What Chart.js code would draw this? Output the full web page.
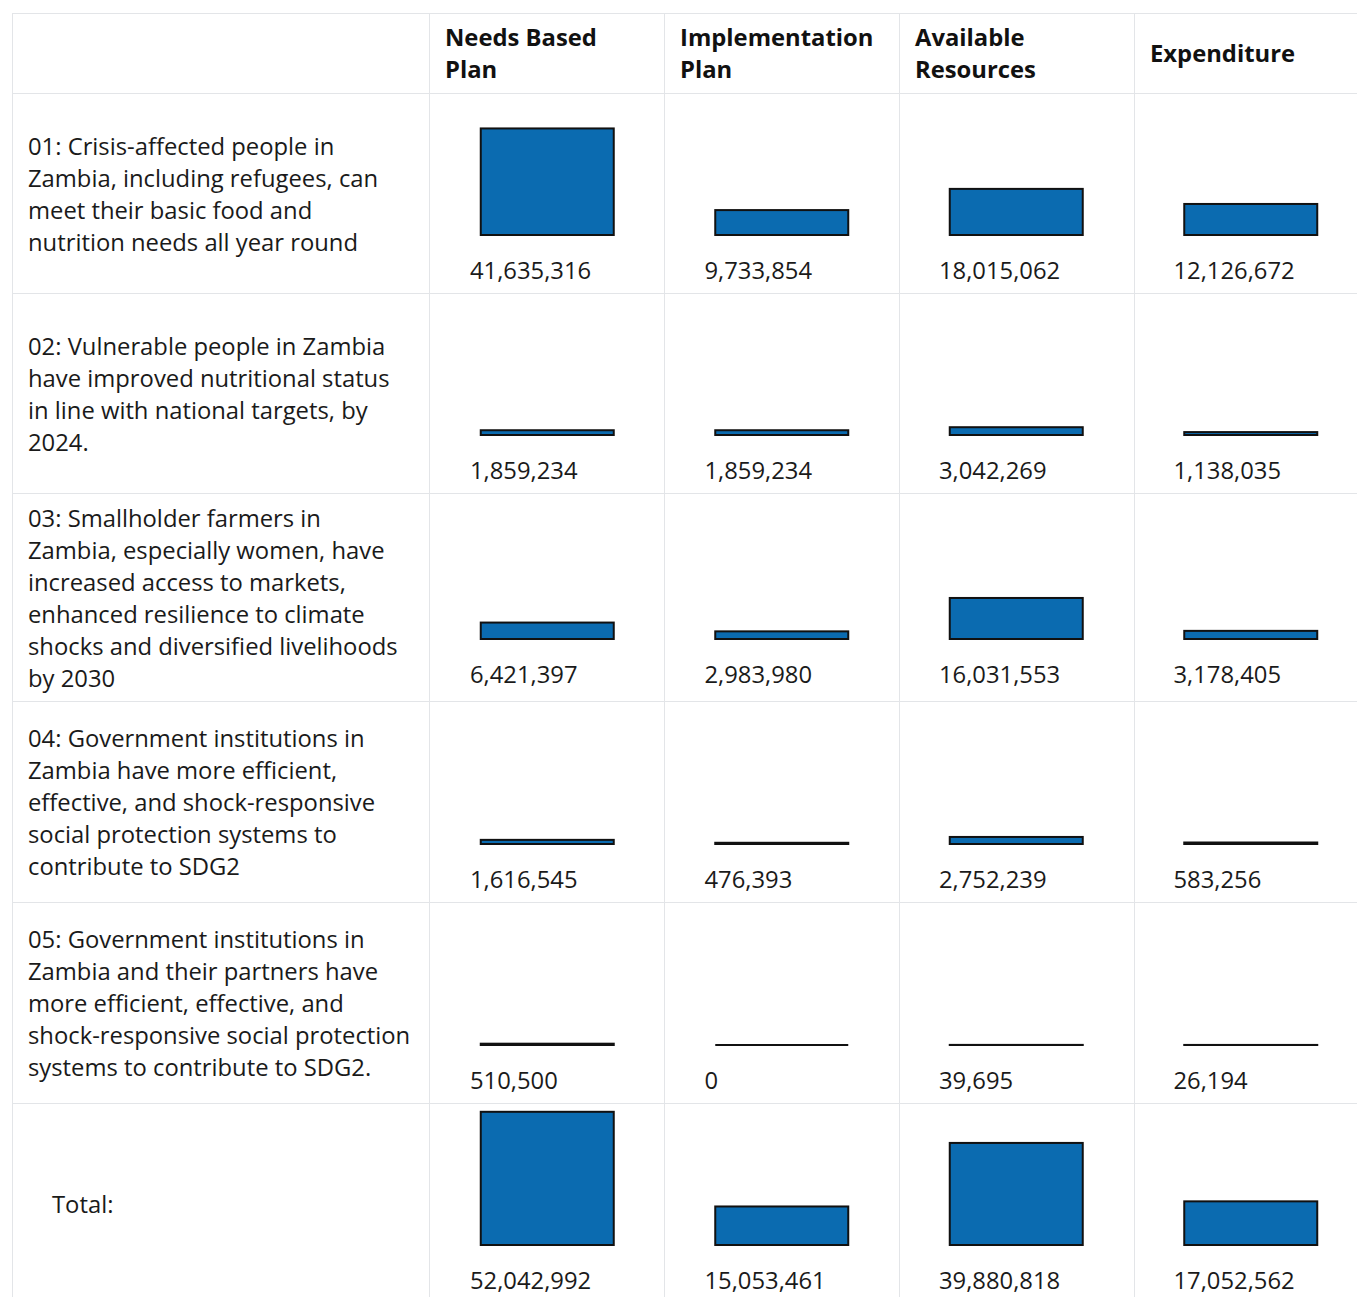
<!DOCTYPE html>
<html>
<head>
<meta charset="utf-8">
<script src="https://cdn.jsdelivr.net/npm/chart.js@4"></script>
<style>
  html, body { margin: 0; padding: 0; overflow: hidden; background: #fff; }
  body { font-family: 'Open Sans', sans-serif; color: #1a1a1a; width: 1357px; height: 1297px; }
  #grid { position: absolute; left: 12px; top: 13px; border-top: 1px solid #e3e5e8; border-left: 1px solid #e3e5e8; }
  .row { position: relative; display: flex; }
  .cell { box-sizing: border-box; border-right: 1px solid #e3e5e8; border-bottom: 1px solid #e3e5e8; display: flex; align-items: center; font-size: 23.8px; line-height: 32px; white-space: nowrap; }
  .label { width: 417px; padding: 0 15px; }
  .head { font-weight: bold; color: #111; padding-left: 15px; padding-bottom: 1px; }
  .val { width: 235px; }
  .total { padding-left: 39px; }
  .num { position: absolute; font-size: 23.8px; line-height: 32px; white-space: nowrap; }
  .plot { position: absolute; left: 417px; }
</style>
</head>
<body>
<div id="grid"></div>
<script>
const columns = [['Needs Based', 'Plan'], ['Implementation', 'Plan'], ['Available', 'Resources'], ['Expenditure']];
const outcomes = [
  ['01: Crisis-affected people in', 'Zambia, including refugees, can', 'meet their basic food and', 'nutrition needs all year round'],
  ['02: Vulnerable people in Zambia', 'have improved nutritional status', 'in line with national targets, by', '2024.'],
  ['03: Smallholder farmers in', 'Zambia, especially women, have', 'increased access to markets,', 'enhanced resilience to climate', 'shocks and diversified livelihoods', 'by 2030'],
  ['04: Government institutions in', 'Zambia have more efficient,', 'effective, and shock-responsive', 'social protection systems to', 'contribute to SDG2'],
  ['05: Government institutions in', 'Zambia and their partners have', 'more efficient, effective, and', 'shock-responsive social protection', 'systems to contribute to SDG2.'],
  ['Total:']
];
const needsBased = [41635316, 1859234, 6421397, 1616545, 510500, 52042992];
const implementation = [9733854, 1859234, 2983980, 476393, 0, 15053461];
const available = [18015062, 3042269, 16031553, 2752239, 39695, 39880818];
const expenditure = [12126672, 1138035, 3178405, 583256, 26194, 17052562];

const rowHeights = [200, 200, 208, 201, 201, 200];
const colW = 234.5;
const yMax = 54700000;

// black outline drawn around each bar, like an svg stroke (also shows zero values as a line)
const outline = {
  id: 'outline',
  afterDatasetsDraw(chart) {
    const ctx = chart.ctx;
    ctx.save();
    ctx.lineWidth = 2;
    ctx.strokeStyle = '#111';
    chart.getDatasetMeta(0).data.forEach(bar => {
      const { x, y, base, width } = bar.getProps(['x', 'y', 'base', 'width'], true);
      ctx.strokeRect(x - width / 2, y, width, base - y);
    });
    ctx.restore();
  }
};

const grid = document.getElementById('grid');

const head = document.createElement('div');
head.className = 'row';
head.innerHTML = '<div class="cell label" style="height:80px"></div>' +
  columns.map(c => `<div class="cell val head" style="height:80px">${c.join('<br>')}</div>`).join('');
grid.appendChild(head);

outcomes.forEach((lines, i) => {
  const h = rowHeights[i];
  const row = document.createElement('div');
  row.className = 'row';
  const isTotal = i === outcomes.length - 1;
  let html = `<div class="cell label${isTotal ? ' total' : ''}" style="height:${h}px"><div>${lines.join('<br>')}</div></div>`;
  html += columns.map(() => `<div class="cell val" style="height:${h}px"></div>`).join('');
  const vals = [needsBased[i], implementation[i], available[i], expenditure[i]];
  const baseline = Math.round(h / 2 + 41);
  vals.forEach((v, j) => {
    html += `<div class="num" style="left:${417 + j * colW + 40}px;top:${h / 2 + 60}px">${v.toLocaleString('en-US')}</div>`;
  });
  html += `<div class="plot" style="top:${baseline - 144}px"><canvas id="c${i}" width="938" height="148"></canvas></div>`;
  row.innerHTML = html;
  grid.appendChild(row);

  new Chart(document.getElementById('c' + i).getContext('2d'), {
    type: 'bar',
    data: {
      labels: columns.map(c => c.join(' ')),
      datasets: [{
        data: vals,
        backgroundColor: '#0b6bb0',
        borderWidth: 0,
        inflateAmount: 0,
        barThickness: 133
      }]
    },
    options: {
      responsive: false,
      animation: false,
      layout: { padding: { top: 4, bottom: 4, left: 0, right: 0 } },
      plugins: { legend: { display: false }, tooltip: { enabled: false } },
      scales: {
        x: { display: false },
        y: { display: false, min: 0, max: yMax }
      }
    },
    plugins: [outline]
  });
});
</script>
</body>
</html>
